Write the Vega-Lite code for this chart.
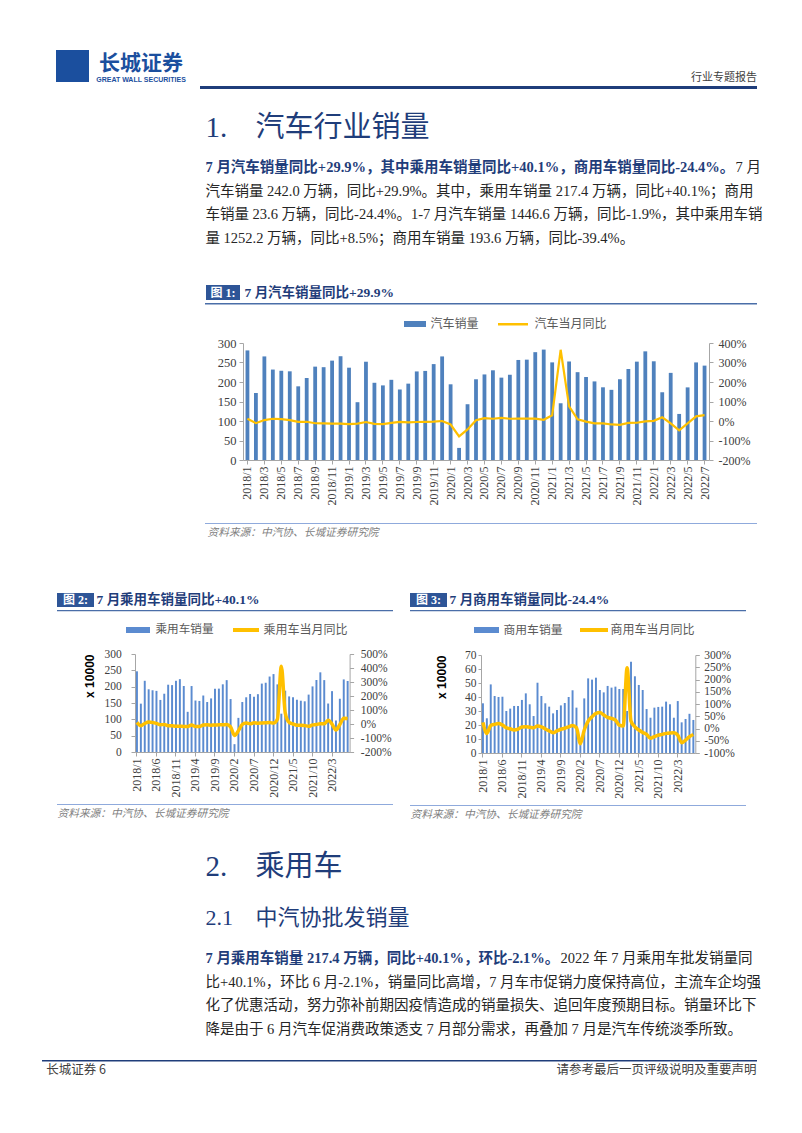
{
"$schema": "https://vega.github.io/schema/vega-lite/v6.json",
"background": "white",
"padding": {"left": 0, "top": 50, "right": 0, "bottom": 0},
"spacing": 0,
"config": {
  "view": {"stroke": null},
  "concat": {"spacing": 0},
  "font": "Liberation Serif, Noto Sans CJK SC",
  "axis": {"labelFont": "Liberation Serif", "labelColor": "#404040", "domainColor": "#a6a6a6", "tickColor": "#a6a6a6", "grid": false, "tickSize": 4, "labelFontSize": 12}
},
"datasets": {
  "auto": [
{"m":"2018/1","sales":281.0,"yoy":11.6},{"m":"2018/2","sales":171.8,"yoy":-11.1},{"m":"2018/3","sales":265.6,"yoy":4.7},{"m":"2018/4","sales":231.9,"yoy":11.5},{"m":"2018/5","sales":228.8,"yoy":9.6},{"m":"2018/6","sales":227.4,"yoy":4.8},{"m":"2018/7","sales":188.9,"yoy":-4.0},{"m":"2018/8","sales":210.3,"yoy":-3.8},{"m":"2018/9","sales":239.4,"yoy":-11.6},{"m":"2018/10","sales":238.0,"yoy":-11.7},{"m":"2018/11","sales":254.8,"yoy":-13.9},{"m":"2018/12","sales":266.1,"yoy":-13.0},
{"m":"2019/1","sales":236.7,"yoy":-15.8},{"m":"2019/2","sales":148.2,"yoy":-13.8},{"m":"2019/3","sales":252.0,"yoy":-5.2},{"m":"2019/4","sales":198.0,"yoy":-14.6},{"m":"2019/5","sales":191.3,"yoy":-16.4},{"m":"2019/6","sales":205.6,"yoy":-9.6},{"m":"2019/7","sales":180.8,"yoy":-4.3},{"m":"2019/8","sales":195.8,"yoy":-6.9},{"m":"2019/9","sales":227.1,"yoy":-5.2},{"m":"2019/10","sales":228.4,"yoy":-4.0},{"m":"2019/11","sales":245.9,"yoy":-3.6},{"m":"2019/12","sales":265.6,"yoy":-0.1},
{"m":"2020/1","sales":194.1,"yoy":-18.0},{"m":"2020/2","sales":31.0,"yoy":-79.1},{"m":"2020/3","sales":143.0,"yoy":-43.3},{"m":"2020/4","sales":207.0,"yoy":4.4},{"m":"2020/5","sales":219.4,"yoy":14.5},{"m":"2020/6","sales":230.0,"yoy":11.6},{"m":"2020/7","sales":211.2,"yoy":16.4},{"m":"2020/8","sales":218.6,"yoy":11.6},{"m":"2020/9","sales":256.5,"yoy":12.8},{"m":"2020/10","sales":257.3,"yoy":12.5},{"m":"2020/11","sales":276.5,"yoy":12.6},{"m":"2020/12","sales":283.1,"yoy":6.4},
{"m":"2021/1","sales":250.3,"yoy":29.5},{"m":"2021/2","sales":145.5,"yoy":365.2},{"m":"2021/3","sales":252.6,"yoy":74.9},{"m":"2021/4","sales":225.2,"yoy":8.6},{"m":"2021/5","sales":212.8,"yoy":-3.1},{"m":"2021/6","sales":201.5,"yoy":-12.4},{"m":"2021/7","sales":186.4,"yoy":-11.9},{"m":"2021/8","sales":179.9,"yoy":-17.8},{"m":"2021/9","sales":207.1,"yoy":-19.6},{"m":"2021/10","sales":233.3,"yoy":-9.4},{"m":"2021/11","sales":252.2,"yoy":-9.1},{"m":"2021/12","sales":278.6,"yoy":-1.6},
{"m":"2022/1","sales":253.1,"yoy":0.9},{"m":"2022/2","sales":173.7,"yoy":18.7},{"m":"2022/3","sales":223.4,"yoy":-11.7},{"m":"2022/4","sales":118.1,"yoy":-47.6},{"m":"2022/5","sales":186.2,"yoy":-12.6},{"m":"2022/6","sales":250.2,"yoy":23.8},{"m":"2022/7","sales":242.0,"yoy":29.9}
  ],
  "pv": [
{"m":"2018/1","sales":247,"yoy":11.3},{"m":"2018/2","sales":148,"yoy":-11.8},{"m":"2018/3","sales":218,"yoy":3.6},{"m":"2018/4","sales":192,"yoy":14.1},{"m":"2018/5","sales":189,"yoy":11.3},{"m":"2018/6","sales":187.1,"yoy":4.6},{"m":"2018/7","sales":159.4,"yoy":-5.3},{"m":"2018/8","sales":178.4,"yoy":-3.7},{"m":"2018/9","sales":206,"yoy":-12.0},{"m":"2018/10","sales":204.8,"yoy":-13.0},{"m":"2018/11","sales":218,"yoy":-16.1},{"m":"2018/12","sales":223,"yoy":-15.8},
{"m":"2019/1","sales":202.1,"yoy":-17.7},{"m":"2019/2","sales":123,"yoy":-17.4},{"m":"2019/3","sales":201.9,"yoy":-6.9},{"m":"2019/4","sales":157.6,"yoy":-17.7},{"m":"2019/5","sales":156.3,"yoy":-17.4},{"m":"2019/6","sales":172.9,"yoy":-7.6},{"m":"2019/7","sales":153,"yoy":-5.3},{"m":"2019/8","sales":164,"yoy":-8.1},{"m":"2019/9","sales":194,"yoy":-6.3},{"m":"2019/10","sales":194,"yoy":-6.2},{"m":"2019/11","sales":207.2,"yoy":-5.4},{"m":"2019/12","sales":220,"yoy":-3.6},
{"m":"2020/1","sales":162.1,"yoy":-20.2},{"m":"2020/2","sales":24,"yoy":-81.7},{"m":"2020/3","sales":104.5,"yoy":-48.4},{"m":"2020/4","sales":153,"yoy":-2.6},{"m":"2020/5","sales":167.5,"yoy":7.0},{"m":"2020/6","sales":177.6,"yoy":1.8},{"m":"2020/7","sales":169,"yoy":8.6},{"m":"2020/8","sales":177,"yoy":6.0},{"m":"2020/9","sales":209.4,"yoy":8.0},{"m":"2020/10","sales":212,"yoy":9.2},{"m":"2020/11","sales":231,"yoy":10.0},{"m":"2020/12","sales":238.5,"yoy":6.4},
{"m":"2021/1","sales":207,"yoy":34.6},{"m":"2021/2","sales":117.3,"yoy":411.8},{"m":"2021/3","sales":187.7,"yoy":79.8},{"m":"2021/4","sales":170.2,"yoy":11.2},{"m":"2021/5","sales":167.7,"yoy":0.0},{"m":"2021/6","sales":160,"yoy":-8.6},{"m":"2021/7","sales":157,"yoy":-8.8},{"m":"2021/8","sales":155.2,"yoy":-11.6},{"m":"2021/9","sales":175.7,"yoy":-16.0},{"m":"2021/10","sales":200.8,"yoy":-6.5},{"m":"2021/11","sales":220.5,"yoy":-3.4},{"m":"2021/12","sales":243.9,"yoy":2.3},
{"m":"2022/1","sales":220.1,"yoy":0.9},{"m":"2022/2","sales":148.4,"yoy":26.5},{"m":"2022/3","sales":186.3,"yoy":-0.7},{"m":"2022/4","sales":96.5,"yoy":-43.4},{"m":"2022/5","sales":163,"yoy":-4.0},{"m":"2022/6","sales":222.2,"yoy":41.2},{"m":"2022/7","sales":217.4,"yoy":40.1}
  ],
  "cv": [
{"m":"2018/1","sales":35.5,"yoy":25},{"m":"2018/2","sales":24.8,"yoy":-20},{"m":"2018/3","sales":49,"yoy":12},{"m":"2018/4","sales":40.7,"yoy":17},{"m":"2018/5","sales":40,"yoy":20},{"m":"2018/6","sales":40.2,"yoy":14},{"m":"2018/7","sales":30,"yoy":3},{"m":"2018/8","sales":31.7,"yoy":-1},{"m":"2018/9","sales":33.6,"yoy":-6},{"m":"2018/10","sales":33.6,"yoy":-3},{"m":"2018/11","sales":37.9,"yoy":6},{"m":"2018/12","sales":42.6,"yoy":7},
{"m":"2019/1","sales":34.8,"yoy":5},{"m":"2019/2","sales":26.4,"yoy":3},{"m":"2019/3","sales":50.2,"yoy":10},{"m":"2019/4","sales":40.7,"yoy":7},{"m":"2019/5","sales":35.5,"yoy":-2},{"m":"2019/6","sales":33.1,"yoy":-10},{"m":"2019/7","sales":28.3,"yoy":-17},{"m":"2019/8","sales":30.7,"yoy":-10},{"m":"2019/9","sales":34,"yoy":-3},{"m":"2019/10","sales":35.7,"yoy":1},{"m":"2019/11","sales":40,"yoy":7},{"m":"2019/12","sales":44.8,"yoy":12},
{"m":"2020/1","sales":32.4,"yoy":3},{"m":"2020/2","sales":9.3,"yoy":-62},{"m":"2020/3","sales":39,"yoy":-6},{"m":"2020/4","sales":53.3,"yoy":30},{"m":"2020/5","sales":52.4,"yoy":48},{"m":"2020/6","sales":53.8,"yoy":62},{"m":"2020/7","sales":45,"yoy":65},{"m":"2020/8","sales":43.3,"yoy":55},{"m":"2020/9","sales":47.9,"yoy":45},{"m":"2020/10","sales":46.7,"yoy":41},{"m":"2020/11","sales":47.4,"yoy":34},{"m":"2020/12","sales":45.7,"yoy":14},
{"m":"2021/1","sales":45.7,"yoy":10},{"m":"2021/2","sales":30,"yoy":248},{"m":"2021/3","sales":65.2,"yoy":30},{"m":"2021/4","sales":54.8,"yoy":7},{"m":"2021/5","sales":48.6,"yoy":-6},{"m":"2021/6","sales":45,"yoy":-16},{"m":"2021/7","sales":31.4,"yoy":-24},{"m":"2021/8","sales":25.2,"yoy":-40},{"m":"2021/9","sales":32.4,"yoy":-33},{"m":"2021/10","sales":32.9,"yoy":-27},{"m":"2021/11","sales":33.1,"yoy":-24},{"m":"2021/12","sales":36.7,"yoy":-20},
{"m":"2022/1","sales":34.8,"yoy":-18},{"m":"2022/2","sales":25.2,"yoy":-17},{"m":"2022/3","sales":37.1,"yoy":-27},{"m":"2022/4","sales":21.9,"yoy":-58},{"m":"2022/5","sales":24.3,"yoy":-47},{"m":"2022/6","sales":28.0,"yoy":-33},{"m":"2022/7","sales":23.6,"yoy":-24.4}
  ]
},
"vconcat": [
  {"spacing": 0, "hconcat": [
    {"width": 56, "height": 1, "data": {"values": []}, "mark": "rule", "encoding": {}},
    {"width": 33, "height": 32, "view": {"fill": "#1b4f9e", "stroke": null}, "data": {"values": []}, "mark": "rule", "encoding": {}},
    {"width": 5, "height": 1, "data": {"values": []}, "mark": "rule", "encoding": {}},
    {"spacing": 0, "vconcat": [
      {"width": 94, "height": 2, "data": {"values": []}, "mark": "rule", "encoding": {}},
      {"width": 94, "height": 1, "data": {"values": [{"t": "长城证券"}]}, "mark": {"type": "text", "align": "center", "baseline": "top", "fontSize": 21, "fontWeight": "bold", "font": "Noto Sans CJK SC", "color": "#1b4f9e"}, "encoding": {"text": {"field": "t"}}},
      {"width": 94, "height": 1, "data": {"values": []}, "mark": "rule", "encoding": {}},
      {"width": 94, "height": 1, "data": {"values": [{"t": "GREAT WALL SECURITIES"}]}, "mark": {"type": "text", "align": "center", "baseline": "top", "fontSize": 7, "fontWeight": "bold", "font": "Liberation Sans", "color": "#1b4f9e"}, "encoding": {"text": {"field": "t"}}}
    ]},
    {"width": 12, "height": 1, "data": {"values": []}, "mark": "rule", "encoding": {}},
    {"spacing": 0, "vconcat": [
      {"width": 1, "height": 21, "data": {"values": []}, "mark": "rule", "encoding": {}},
      {"spacing": 0, "hconcat": [
        {"width": 491, "height": 1, "data": {"values": []}, "mark": "rule", "encoding": {}},
        {"width": 66, "height": 1, "data": {"values": [{"t": "行业专题报告"}]}, "mark": {"type": "text", "align": "center", "baseline": "top", "fontSize": 11, "font": "Noto Sans CJK SC", "color": "#404040"}, "encoding": {"text": {"field": "t"}}}
      ]},
      {"width": 1, "height": 3, "data": {"values": []}, "mark": "rule", "encoding": {}},
      {"width": 557, "height": 3, "view": {"fill": "#1f3d7a", "stroke": null}, "data": {"values": []}, "mark": "rule", "encoding": {}}
    ]}
  ]},
  {"width": 1, "height": 24, "data": {"values": []}, "mark": "rule", "encoding": {}},
  {"spacing": 0, "hconcat": [
    {"width": 205, "height": 1, "data": {"values": []}, "mark": "rule", "encoding": {}},
    {"width": 1, "height": 1, "data": {"values": [{"t": "1."}]}, "mark": {"type": "text", "align": "left", "baseline": "top", "fontSize": 29, "color": "#1f3d7a"}, "encoding": {"text": {"field": "t"}}},
    {"width": 27, "height": 1, "data": {"values": []}, "mark": "rule", "encoding": {}},
    {"width": 1, "height": 1, "data": {"values": [{"t": "汽车行业销量"}]}, "mark": {"type": "text", "align": "left", "baseline": "top", "fontSize": 29, "color": "#1f3d7a"}, "encoding": {"text": {"field": "t"}}}
  ]},
  {"width": 1, "height": 15.75, "data": {"values": []}, "mark": "rule", "encoding": {}},
  {"spacing": 0, "hconcat": [
    {"width": 205, "height": 1, "data": {"values": []}, "mark": "rule", "encoding": {}},
    {"width": 1, "height": 1, "data": {"values": [{"t": "7 月汽车销量同比+29.9%，其中乘用车销量同比+40.1%，商用车销量同比-24.4%。"}]}, "mark": {"type": "text", "align": "left", "baseline": "top", "fontSize": 14.5, "fontWeight": "bold", "color": "#1f3d7a"}, "encoding": {"text": {"field": "t"}}},
    {"width": 1, "height": 1, "data": {"values": [{"t": "7 月"}]}, "mark": {"type": "text", "align": "left", "baseline": "top", "fontSize": 14.5, "color": "#262626"}, "encoding": {"text": {"field": "t"}}}
  ]},
  {"width": 1, "height": 9, "data": {"values": []}, "mark": "rule", "encoding": {}},
  {"spacing": 0, "hconcat": [
    {"width": 205, "height": 1, "data": {"values": []}, "mark": "rule", "encoding": {}},
    {"width": 1, "height": 1, "data": {"values": [{"t": "汽车销量 242.0 万辆，同比+29.9%。其中，乘用车销量 217.4 万辆，同比+40.1%；商用\n车销量 23.6 万辆，同比-24.4%。1-7 月汽车销量 1446.6 万辆，同比-1.9%，其中乘用车销\n量 1252.2 万辆，同比+8.5%；商用车销量 193.6 万辆，同比-39.4%。"}]}, "mark": {"type": "text", "align": "left", "baseline": "top", "fontSize": 14.5, "lineBreak": "\n", "lineHeight": 23.5, "color": "#262626"}, "encoding": {"text": {"field": "t"}}}
  ]},
  {"width": 1, "height": 39.25, "data": {"values": []}, "mark": "rule", "encoding": {}},
  {"spacing": 0, "hconcat": [
    {"width": 206, "height": 1, "data": {"values": []}, "mark": "rule", "encoding": {}},
    {"width": 34, "height": 15, "view": {"fill": "#2e5597", "stroke": null}, "data": {"values": [{"t": "图 1:"}]}, "mark": {"type": "text", "align": "center", "baseline": "middle", "fontSize": 12, "fontWeight": "bold", "color": "white"}, "encoding": {"text": {"field": "t"}}},
    {"width": 4, "height": 1, "data": {"values": []}, "mark": "rule", "encoding": {}},
    {"width": 1, "height": 15, "data": {"values": [{"t": "7 月汽车销量同比+29.9%"}]}, "mark": {"type": "text", "align": "left", "baseline": "middle", "fontSize": 13.5, "fontWeight": "bold", "color": "#1f3d7a"}, "encoding": {"text": {"field": "t"}}}
  ]},
  {"width": 1, "height": 2.5, "data": {"values": []}, "mark": "rule", "encoding": {}},
  {"spacing": 0, "hconcat": [
    {"width": 205, "height": 1, "data": {"values": []}, "mark": "rule", "encoding": {}},
    {"width": 552, "height": 1.5, "view": {"fill": "#4a6ea8", "stroke": null}, "data": {"values": []}, "mark": "rule", "encoding": {}}
  ]},
  {"width": 1, "height": 13, "data": {"values": []}, "mark": "rule", "encoding": {}},
  {"spacing": 0, "hconcat": [
    {"width": 404, "height": 1, "data": {"values": []}, "mark": "rule", "encoding": {}},
    {"width": 22, "height": 6, "view": {"fill": "#4f81bd", "stroke": null}, "data": {"values": []}, "mark": "rule", "encoding": {}},
    {"width": 4, "height": 1, "data": {"values": []}, "mark": "rule", "encoding": {}},
    {"width": 1, "height": 6, "data": {"values": [{"t": "汽车销量"}]}, "mark": {"type": "text", "align": "left", "baseline": "middle", "fontSize": 12, "font": "Noto Sans CJK SC", "color": "#595959"}, "encoding": {"text": {"field": "t"}}},
    {"width": 18.5, "height": 1, "data": {"values": []}, "mark": "rule", "encoding": {}},
    {"spacing": 0, "vconcat": [
      {"width": 1, "height": 1.75, "data": {"values": []}, "mark": "rule", "encoding": {}},
      {"width": 30, "height": 2.5, "view": {"fill": "#ffc000", "stroke": null}, "data": {"values": []}, "mark": "rule", "encoding": {}}
    ]},
    {"width": 6, "height": 1, "data": {"values": []}, "mark": "rule", "encoding": {}},
    {"width": 1, "height": 6, "data": {"values": [{"t": "汽车当月同比"}]}, "mark": {"type": "text", "align": "left", "baseline": "middle", "fontSize": 12, "font": "Noto Sans CJK SC", "color": "#595959"}, "encoding": {"text": {"field": "t"}}}
  ]},
  {"width": 1, "height": 6.75, "data": {"values": []}, "mark": "rule", "encoding": {}},
  {"spacing": 0, "hconcat": [
    {"width": 217, "height": 1, "data": {"values": []}, "mark": "rule", "encoding": {}},
    {
      "width": 466, "height": 117,
      "data": {"name": "auto"},
      "encoding": {"x": {"field": "m", "type": "ordinal", "sort": null, "scale": {"paddingInner": 0.55, "paddingOuter": 0.3},
        "axis": {"title": null, "values": ["2018/1","2018/3","2018/5","2018/7","2018/9","2018/11","2019/1","2019/3","2019/5","2019/7","2019/9","2019/11","2020/1","2020/3","2020/5","2020/7","2020/9","2020/11","2021/1","2021/3","2021/5","2021/7","2021/9","2021/11","2022/1","2022/3","2022/5","2022/7"], "labelAngle": 270, "labelFontSize": 12, "labelPadding": 2, "tickSize": 4}}},
      "layer": [
        {"mark": {"type": "bar", "color": "#4f81bd"}, "encoding": {
          "y": {"field": "sales", "type": "quantitative", "scale": {"domain": [0, 300], "nice": false}, "axis": {"title": null, "values": [0,50,100,150,200,250,300], "labelFontSize": 12.5, "labelPadding": 3, "tickSize": 4}}}},
        {"mark": {"type": "line", "strokeWidth": 2.2, "color": "#ffc000"}, "encoding": {
          "y": {"field": "yoy", "type": "quantitative", "scale": {"domain": [-200, 400], "nice": false}, "axis": {"orient": "right", "title": null, "values": [-200,-100,0,100,200,300,400], "labelExpr": "datum.value + '%'", "labelFontSize": 12, "labelPadding": 5, "tickSize": 4}}}}
      ],
      "resolve": {"scale": {"y": "independent"}}
    }
  ]},
  {"width": 1, "height": 17.7, "data": {"values": []}, "mark": "rule", "encoding": {}},
  {"spacing": 0, "hconcat": [
    {"width": 205, "height": 1, "data": {"values": []}, "mark": "rule", "encoding": {}},
    {"width": 552, "height": 1, "view": {"fill": "#8faadc", "stroke": null}, "data": {"values": []}, "mark": "rule", "encoding": {}}
  ]},
  {"width": 1, "height": 1.5, "data": {"values": []}, "mark": "rule", "encoding": {}},
  {"spacing": 0, "hconcat": [
    {"width": 207, "height": 1, "data": {"values": []}, "mark": "rule", "encoding": {}},
    {"width": 1, "height": 1, "data": {"values": [{"t": "资料来源：中汽协、长城证券研究院"}]}, "mark": {"type": "text", "align": "left", "baseline": "top", "fontSize": 10.7, "fontStyle": "italic", "color": "#7f7f7f"}, "encoding": {"text": {"field": "t"}}}
  ]},
  {"width": 1, "height": 55, "data": {"values": []}, "mark": "rule", "encoding": {}},
  {"spacing": 0, "hconcat": [
    {"width": 57, "height": 1, "data": {"values": []}, "mark": "rule", "encoding": {}},
    {"spacing": 0, "vconcat": [
      {"spacing": 0, "hconcat": [
        {"width": 37, "height": 14, "view": {"fill": "#2e5597", "stroke": null}, "data": {"values": [{"t": "图 2:"}]}, "mark": {"type": "text", "align": "center", "baseline": "middle", "fontSize": 12, "fontWeight": "bold", "color": "white"}, "encoding": {"text": {"field": "t"}}},
        {"width": 2, "height": 1, "data": {"values": []}, "mark": "rule", "encoding": {}},
        {"width": 1, "height": 14, "data": {"values": [{"t": "7 月乘用车销量同比+40.1%"}]}, "mark": {"type": "text", "align": "left", "baseline": "middle", "fontSize": 13.5, "fontWeight": "bold", "color": "#1f3d7a"}, "encoding": {"text": {"field": "t"}}}
      ]},
      {"width": 1, "height": 2.5, "data": {"values": []}, "mark": "rule", "encoding": {}},
      {"width": 336, "height": 1.2, "view": {"fill": "#4a6ea8", "stroke": null}, "data": {"values": []}, "mark": "rule", "encoding": {}},
      {"width": 1, "height": 12, "data": {"values": []}, "mark": "rule", "encoding": {}},
      {"spacing": 0, "hconcat": [
        {"width": 69, "height": 1, "data": {"values": []}, "mark": "rule", "encoding": {}},
        {"width": 24, "height": 6, "view": {"fill": "#5b8bd0", "stroke": null}, "data": {"values": []}, "mark": "rule", "encoding": {}},
        {"width": 5, "height": 1, "data": {"values": []}, "mark": "rule", "encoding": {}},
        {"width": 1, "height": 6, "data": {"values": [{"t": "乘用车销量"}]}, "mark": {"type": "text", "align": "left", "baseline": "middle", "fontSize": 11.6, "font": "Noto Sans CJK SC", "color": "#595959"}, "encoding": {"text": {"field": "t"}}},
        {"width": 18.5, "height": 1, "data": {"values": []}, "mark": "rule", "encoding": {}},
        {"spacing": 0, "vconcat": [
          {"width": 1, "height": 1, "data": {"values": []}, "mark": "rule", "encoding": {}},
          {"width": 26, "height": 4, "view": {"fill": "#ffc000", "stroke": null}, "data": {"values": []}, "mark": "rule", "encoding": {}}
        ]},
        {"width": 4, "height": 1, "data": {"values": []}, "mark": "rule", "encoding": {}},
        {"width": 1, "height": 6, "data": {"values": [{"t": "乘用车当月同比"}]}, "mark": {"type": "text", "align": "left", "baseline": "middle", "fontSize": 12, "font": "Noto Sans CJK SC", "color": "#595959"}, "encoding": {"text": {"field": "t"}}}
      ]},
      {"width": 1, "height": 11.55, "data": {"values": []}, "mark": "rule", "encoding": {}},
      {"spacing": 0, "hconcat": [
        {"width": 25.7, "height": 1, "data": {"values": []}, "mark": "rule", "encoding": {}},
        {
          "width": 214.6, "height": 98,
          "data": {"name": "pv"},
          "encoding": {"x": {"field": "m", "type": "ordinal", "sort": null, "scale": {"paddingInner": 0.5, "paddingOuter": 0.25},
            "axis": {"title": null, "values": ["2018/1","2018/6","2018/11","2019/4","2019/9","2020/2","2020/7","2020/12","2021/5","2021/10","2022/3"], "labelAngle": 270, "labelFontSize": 12, "labelPadding": 2, "tickSize": 4}}},
          "layer": [
            {"mark": {"type": "bar", "color": "#5b8bd0"}, "encoding": {
              "y": {"field": "sales", "type": "quantitative", "scale": {"domain": [0, 300], "nice": false}, "axis": {"title": "x 10000", "titleFont": "Liberation Sans", "titleFontSize": 12, "titleFontWeight": "bold", "titleColor": "#000000", "titlePadding": 8, "titleAnchor": "end", "values": [0,50,100,150,200,250,300], "labelFontSize": 11.5, "labelPadding": 9.7, "tickSize": 4}}}},
            {"mark": {"type": "line", "strokeWidth": 3.5, "interpolate": "monotone", "color": "#ffc000"}, "encoding": {
              "y": {"field": "yoy", "type": "quantitative", "scale": {"domain": [-200, 500], "nice": false}, "axis": {"orient": "right", "title": null, "values": [-200,-100,0,100,200,300,400,500], "labelExpr": "datum.value + '%'", "labelFontSize": 11.5, "labelPadding": 6.7, "tickSize": 4}}}}
          ],
          "resolve": {"scale": {"y": "independent"}}
        }
      ]},
      {"width": 1, "height": 5.7, "data": {"values": []}, "mark": "rule", "encoding": {}},
      {"width": 336, "height": 1, "view": {"fill": "#8faadc", "stroke": null}, "data": {"values": []}, "mark": "rule", "encoding": {}},
      {"width": 1, "height": 2, "data": {"values": []}, "mark": "rule", "encoding": {}},
      {"width": 1, "height": 1, "data": {"values": [{"t": "资料来源：中汽协、长城证券研究院"}]}, "mark": {"type": "text", "align": "left", "baseline": "top", "fontSize": 10.7, "fontStyle": "italic", "color": "#7f7f7f"}, "encoding": {"text": {"field": "t"}}}
    ]},
    {"width": 17, "height": 1, "data": {"values": []}, "mark": "rule", "encoding": {}},
    {"spacing": 0, "vconcat": [
      {"spacing": 0, "hconcat": [
        {"width": 37, "height": 14, "view": {"fill": "#2e5597", "stroke": null}, "data": {"values": [{"t": "图 3:"}]}, "mark": {"type": "text", "align": "center", "baseline": "middle", "fontSize": 12, "fontWeight": "bold", "color": "white"}, "encoding": {"text": {"field": "t"}}},
        {"width": 2, "height": 1, "data": {"values": []}, "mark": "rule", "encoding": {}},
        {"width": 1, "height": 14, "data": {"values": [{"t": "7 月商用车销量同比-24.4%"}]}, "mark": {"type": "text", "align": "left", "baseline": "middle", "fontSize": 13.5, "fontWeight": "bold", "color": "#1f3d7a"}, "encoding": {"text": {"field": "t"}}}
      ]},
      {"width": 1, "height": 2.5, "data": {"values": []}, "mark": "rule", "encoding": {}},
      {"width": 336, "height": 1.2, "view": {"fill": "#4a6ea8", "stroke": null}, "data": {"values": []}, "mark": "rule", "encoding": {}},
      {"width": 1, "height": 12, "data": {"values": []}, "mark": "rule", "encoding": {}},
      {"spacing": 0, "hconcat": [
        {"width": 64, "height": 1, "data": {"values": []}, "mark": "rule", "encoding": {}},
        {"width": 25, "height": 6, "view": {"fill": "#5b8bd0", "stroke": null}, "data": {"values": []}, "mark": "rule", "encoding": {}},
        {"width": 4, "height": 1, "data": {"values": []}, "mark": "rule", "encoding": {}},
        {"width": 1, "height": 6, "data": {"values": [{"t": "商用车销量"}]}, "mark": {"type": "text", "align": "left", "baseline": "middle", "fontSize": 11.8, "font": "Noto Sans CJK SC", "color": "#595959"}, "encoding": {"text": {"field": "t"}}},
        {"width": 16.5, "height": 1, "data": {"values": []}, "mark": "rule", "encoding": {}},
        {"spacing": 0, "vconcat": [
          {"width": 1, "height": 1, "data": {"values": []}, "mark": "rule", "encoding": {}},
          {"width": 28, "height": 4, "view": {"fill": "#ffc000", "stroke": null}, "data": {"values": []}, "mark": "rule", "encoding": {}}
        ]},
        {"width": 2, "height": 1, "data": {"values": []}, "mark": "rule", "encoding": {}},
        {"width": 1, "height": 6, "data": {"values": [{"t": "商用车当月同比"}]}, "mark": {"type": "text", "align": "left", "baseline": "middle", "fontSize": 12, "font": "Noto Sans CJK SC", "color": "#595959"}, "encoding": {"text": {"field": "t"}}}
      ]},
      {"width": 1, "height": 11.55, "data": {"values": []}, "mark": "rule", "encoding": {}},
      {"spacing": 0, "hconcat": [
        {"width": 25, "height": 1, "data": {"values": []}, "mark": "rule", "encoding": {}},
        {
          "width": 214.3, "height": 98,
          "data": {"name": "cv"},
          "encoding": {"x": {"field": "m", "type": "ordinal", "sort": null, "scale": {"paddingInner": 0.5, "paddingOuter": 0.25},
            "axis": {"title": null, "values": ["2018/1","2018/6","2018/11","2019/4","2019/9","2020/2","2020/7","2020/12","2021/5","2021/10","2022/3"], "labelAngle": 270, "labelFontSize": 12, "labelPadding": 2, "tickSize": 4}}},
          "layer": [
            {"mark": {"type": "bar", "color": "#5b8bd0"}, "encoding": {
              "y": {"field": "sales", "type": "quantitative", "scale": {"domain": [0, 70], "nice": false}, "axis": {"title": "x 10000", "titleFont": "Liberation Sans", "titleFontSize": 12, "titleFontWeight": "bold", "titleColor": "#000000", "titlePadding": 16, "titleAnchor": "end", "values": [0,10,20,30,40,50,60,70], "labelFontSize": 11.5, "labelPadding": 2, "tickSize": 3}}}},
            {"mark": {"type": "line", "strokeWidth": 3.5, "interpolate": "monotone", "color": "#ffc000"}, "encoding": {
              "y": {"field": "yoy", "type": "quantitative", "scale": {"domain": [-100, 300], "nice": false}, "axis": {"orient": "right", "title": null, "values": [-100,-50,0,50,100,150,200,250,300], "labelExpr": "datum.value + '%'", "labelFontSize": 11.5, "labelPadding": 4.4, "tickSize": 4}}}}
          ],
          "resolve": {"scale": {"y": "independent"}}
        }
      ]},
      {"width": 1, "height": 5.7, "data": {"values": []}, "mark": "rule", "encoding": {}},
      {"width": 336, "height": 1, "view": {"fill": "#8faadc", "stroke": null}, "data": {"values": []}, "mark": "rule", "encoding": {}},
      {"width": 1, "height": 2, "data": {"values": []}, "mark": "rule", "encoding": {}},
      {"width": 1, "height": 1, "data": {"values": [{"t": "资料来源：中汽协、长城证券研究院"}]}, "mark": {"type": "text", "align": "left", "baseline": "top", "fontSize": 10.7, "fontStyle": "italic", "color": "#7f7f7f"}, "encoding": {"text": {"field": "t"}}}
    ]}
  ]},
  {"width": 1, "height": 32, "data": {"values": []}, "mark": "rule", "encoding": {}},
  {"spacing": 0, "hconcat": [
    {"width": 205, "height": 1, "data": {"values": []}, "mark": "rule", "encoding": {}},
    {"width": 1, "height": 1, "data": {"values": [{"t": "2."}]}, "mark": {"type": "text", "align": "left", "baseline": "top", "fontSize": 29, "color": "#1f3d7a"}, "encoding": {"text": {"field": "t"}}},
    {"width": 27, "height": 1, "data": {"values": []}, "mark": "rule", "encoding": {}},
    {"width": 1, "height": 1, "data": {"values": [{"t": "乘用车"}]}, "mark": {"type": "text", "align": "left", "baseline": "top", "fontSize": 29, "color": "#1f3d7a"}, "encoding": {"text": {"field": "t"}}}
  ]},
  {"width": 1, "height": 24, "data": {"values": []}, "mark": "rule", "encoding": {}},
  {"spacing": 0, "hconcat": [
    {"width": 205, "height": 1, "data": {"values": []}, "mark": "rule", "encoding": {}},
    {"width": 1, "height": 1, "data": {"values": [{"t": "2.1"}]}, "mark": {"type": "text", "align": "left", "baseline": "top", "fontSize": 22, "color": "#1f3d7a"}, "encoding": {"text": {"field": "t"}}},
    {"width": 21.5, "height": 1, "data": {"values": []}, "mark": "rule", "encoding": {}},
    {"width": 1, "height": 1, "data": {"values": [{"t": "中汽协批发销量"}]}, "mark": {"type": "text", "align": "left", "baseline": "top", "fontSize": 22, "color": "#1f3d7a"}, "encoding": {"text": {"field": "t"}}}
  ]},
  {"width": 1, "height": 20.75, "data": {"values": []}, "mark": "rule", "encoding": {}},
  {"spacing": 0, "hconcat": [
    {"width": 205, "height": 1, "data": {"values": []}, "mark": "rule", "encoding": {}},
    {"width": 1, "height": 1, "data": {"values": [{"t": "7 月乘用车销量 217.4 万辆，同比+40.1%，环比-2.1%。"}]}, "mark": {"type": "text", "align": "left", "baseline": "top", "fontSize": 14.5, "fontWeight": "bold", "color": "#1f3d7a"}, "encoding": {"text": {"field": "t"}}},
    {"width": 1, "height": 1, "data": {"values": [{"t": "2022 年 7 月乘用车批发销量同"}]}, "mark": {"type": "text", "align": "left", "baseline": "top", "fontSize": 14.5, "color": "#262626"}, "encoding": {"text": {"field": "t"}}}
  ]},
  {"width": 1, "height": 9, "data": {"values": []}, "mark": "rule", "encoding": {}},
  {"spacing": 0, "hconcat": [
    {"width": 205, "height": 1, "data": {"values": []}, "mark": "rule", "encoding": {}},
    {"width": 1, "height": 1, "data": {"values": [{"t": "比+40.1%，环比 6 月-2.1%，销量同比高增，7 月车市促销力度保持高位，主流车企均强\n化了优惠活动，努力弥补前期因疫情造成的销量损失、追回年度预期目标。销量环比下\n降是由于 6 月汽车促消费政策透支 7 月部分需求，再叠加 7 月是汽车传统淡季所致。"}]}, "mark": {"type": "text", "align": "left", "baseline": "top", "fontSize": 14.5, "lineBreak": "\n", "lineHeight": 23.5, "color": "#262626"}, "encoding": {"text": {"field": "t"}}}
  ]},
  {"width": 1, "height": 23.25, "data": {"values": []}, "mark": "rule", "encoding": {}},
  {"spacing": 0, "hconcat": [
    {"width": 42, "height": 1, "data": {"values": []}, "mark": "rule", "encoding": {}},
    {"width": 715, "height": 1.5, "view": {"fill": "#1f3d7a", "stroke": null}, "data": {"values": []}, "mark": "rule", "encoding": {}}
  ]},
  {"width": 1, "height": 1, "data": {"values": []}, "mark": "rule", "encoding": {}},
  {"spacing": 0, "hconcat": [
    {"width": 42, "height": 1, "data": {"values": []}, "mark": "rule", "encoding": {}},
    {"width": 68, "height": 1, "data": {"values": [{"t": "长城证券 6"}]}, "mark": {"type": "text", "align": "center", "baseline": "top", "fontSize": 12.5, "font": "Noto Sans CJK SC", "color": "#404040"}, "encoding": {"text": {"field": "t"}}},
    {"width": 446, "height": 1, "data": {"values": []}, "mark": "rule", "encoding": {}},
    {"width": 201, "height": 1, "data": {"values": [{"t": "请参考最后一页评级说明及重要声明"}]}, "mark": {"type": "text", "align": "center", "baseline": "top", "fontSize": 12.5, "font": "Noto Sans CJK SC", "color": "#404040"}, "encoding": {"text": {"field": "t"}}}
  ]}
]
}
